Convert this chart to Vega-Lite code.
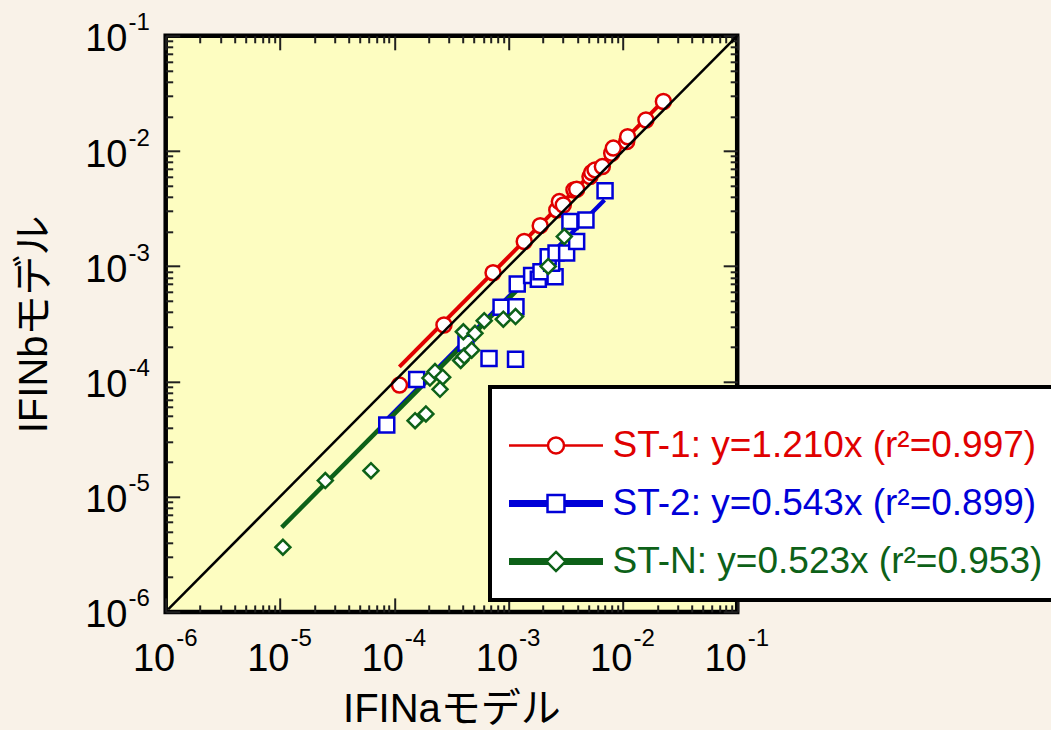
{
  "$schema": "https://vega.github.io/schema/vega-lite/v6.json",
  "width": 571.5,
  "height": 576.1,
  "autosize": {"type": "none"},
  "padding": {"left": 165.7, "top": 35.8, "right": 313.8, "bottom": 118.1},
  "background": "#f9f2e8",
  "config": {
    "view": {"fill": "#fdfdc1", "stroke": "black", "strokeWidth": 4.5},
    "font": "Liberation Sans",
    "legend": {"strokeWidth": 4}
  },
  "datasets": {
    "pts": [
      {"s": "ST-1", "x": 1.11e-4, "y": 9.3e-5},
      {"s": "ST-1", "x": 2.72e-4, "y": 3.09e-4},
      {"s": "ST-1", "x": 7.31e-4, "y": 8.79e-4},
      {"s": "ST-1", "x": 1.37e-3, "y": 1.64e-3},
      {"s": "ST-1", "x": 1.89e-3, "y": 2.25e-3},
      {"s": "ST-1", "x": 2.64e-3, "y": 3.08e-3},
      {"s": "ST-1", "x": 2.78e-3, "y": 3.64e-3},
      {"s": "ST-1", "x": 3.01e-3, "y": 3.40e-3},
      {"s": "ST-1", "x": 3.73e-3, "y": 4.59e-3},
      {"s": "ST-1", "x": 3.94e-3, "y": 4.66e-3},
      {"s": "ST-1", "x": 5.15e-3, "y": 6.00e-3},
      {"s": "ST-1", "x": 5.33e-3, "y": 6.50e-3},
      {"s": "ST-1", "x": 5.70e-3, "y": 6.86e-3},
      {"s": "ST-1", "x": 6.61e-3, "y": 7.33e-3},
      {"s": "ST-1", "x": 7.98e-3, "y": 9.57e-3},
      {"s": "ST-1", "x": 8.24e-3, "y": 1.06e-2},
      {"s": "ST-1", "x": 1.08e-2, "y": 1.21e-2},
      {"s": "ST-1", "x": 1.10e-2, "y": 1.33e-2},
      {"s": "ST-1", "x": 1.59e-2, "y": 1.86e-2},
      {"s": "ST-1", "x": 2.26e-2, "y": 2.69e-2},
      {"s": "ST-2", "x": 8.59e-5, "y": 4.19e-5},
      {"s": "ST-2", "x": 1.57e-4, "y": 1.04e-4},
      {"s": "ST-2", "x": 4.24e-4, "y": 2.15e-4},
      {"s": "ST-2", "x": 6.74e-4, "y": 1.58e-4},
      {"s": "ST-2", "x": 1.15e-3, "y": 1.56e-4},
      {"s": "ST-2", "x": 8.59e-4, "y": 4.41e-4},
      {"s": "ST-2", "x": 1.16e-3, "y": 4.45e-4},
      {"s": "ST-2", "x": 1.19e-3, "y": 7.0e-4},
      {"s": "ST-2", "x": 1.59e-3, "y": 8.3e-4},
      {"s": "ST-2", "x": 1.82e-3, "y": 7.7e-4},
      {"s": "ST-2", "x": 1.92e-3, "y": 8.97e-4},
      {"s": "ST-2", "x": 2.55e-3, "y": 8.1e-4},
      {"s": "ST-2", "x": 2.38e-3, "y": 1.06e-3},
      {"s": "ST-2", "x": 2.22e-3, "y": 1.21e-3},
      {"s": "ST-2", "x": 2.60e-3, "y": 1.30e-3},
      {"s": "ST-2", "x": 3.22e-3, "y": 1.30e-3},
      {"s": "ST-2", "x": 3.94e-3, "y": 1.64e-3},
      {"s": "ST-2", "x": 3.44e-3, "y": 2.44e-3},
      {"s": "ST-2", "x": 4.75e-3, "y": 2.52e-3},
      {"s": "ST-2", "x": 6.98e-3, "y": 4.51e-3},
      {"s": "ST-N", "x": 1.06e-5, "y": 3.64e-6},
      {"s": "ST-N", "x": 2.49e-5, "y": 1.38e-5},
      {"s": "ST-N", "x": 6.25e-5, "y": 1.68e-5},
      {"s": "ST-N", "x": 1.52e-4, "y": 4.57e-5},
      {"s": "ST-N", "x": 1.89e-4, "y": 5.22e-5},
      {"s": "ST-N", "x": 2.05e-4, "y": 1.07e-4},
      {"s": "ST-N", "x": 2.27e-4, "y": 1.22e-4},
      {"s": "ST-N", "x": 2.65e-4, "y": 1.09e-4},
      {"s": "ST-N", "x": 2.51e-4, "y": 8.55e-5},
      {"s": "ST-N", "x": 3.81e-4, "y": 1.52e-4},
      {"s": "ST-N", "x": 4.09e-4, "y": 1.66e-4},
      {"s": "ST-N", "x": 4.75e-4, "y": 1.87e-4},
      {"s": "ST-N", "x": 4.02e-4, "y": 2.70e-4},
      {"s": "ST-N", "x": 5.08e-4, "y": 2.62e-4},
      {"s": "ST-N", "x": 6.12e-4, "y": 3.37e-4},
      {"s": "ST-N", "x": 8.99e-4, "y": 3.47e-4},
      {"s": "ST-N", "x": 1.15e-3, "y": 3.66e-4},
      {"s": "ST-N", "x": 2.22e-3, "y": 9.95e-4},
      {"s": "ST-N", "x": 3.07e-3, "y": 1.81e-3}
    ],
    "fit": [
      {"series": "ST-1", "x": 1.107e-4, "y": 1.34e-4},
      {"series": "ST-1", "x": 2.35e-2, "y": 2.84e-2},
      {"series": "ST-2", "x": 8.6e-5, "y": 4.67e-5},
      {"series": "ST-2", "x": 6.9e-3, "y": 3.75e-3},
      {"series": "ST-N", "x": 1.035e-5, "y": 5.41e-6},
      {"series": "ST-N", "x": 3.1e-3, "y": 1.62e-3}
    ],
    "diag": [
      {"x": 1.05e-6, "y": 1.05e-6},
      {"x": 0.1, "y": 0.1}
    ]
  },
  "resolve": {"axis": {"x": "independent", "y": "independent"}},
  "layer": [
    {
      "data": {"name": "fit"},
      "mark": {"type": "line", "strokeCap": "butt"},
      "encoding": {
        "x": {
          "field": "x", "type": "quantitative",
          "scale": {"type": "log", "domain": [1e-6, 0.1], "nice": false},
          "axis": {
            "orient": "bottom",
            "values": [1e-6,2e-6,3e-6,4e-6,5e-6,6e-6,7e-6,8e-6,9e-6,1e-5,2e-5,3e-5,4e-5,5e-5,6e-5,7e-5,8e-5,9e-5,1e-4,2e-4,3e-4,4e-4,5e-4,6e-4,7e-4,8e-4,9e-4,0.001,0.002,0.003,0.004,0.005,0.006,0.007,0.008,0.009,0.01,0.02,0.03,0.04,0.05,0.06,0.07,0.08,0.09,0.1],
            "ticks": false, "tickSize": 0, "domain": false, "grid": false, "title": null,
            "labelExpr": "abs(log(datum.value)/LN10 - round(log(datum.value)/LN10)) < 0.001 ? '-' + (-round(log(datum.value)/LN10)) : ''",
            "labelFontSize": 24, "labelFont": "Liberation Sans", "labelColor": "black",
            "labelAlign": "left", "labelBaseline": "top", "labelOffset": 10, "labelPadding": 14.3,
            "labelFlush": false, "labelOverlap": false, "labelBound": false
          }
        },
        "y": {
          "field": "y", "type": "quantitative",
          "scale": {"type": "log", "domain": [1e-6, 0.1], "nice": false},
          "axis": {
            "orient": "left",
            "values": [1e-6,2e-6,3e-6,4e-6,5e-6,6e-6,7e-6,8e-6,9e-6,1e-5,2e-5,3e-5,4e-5,5e-5,6e-5,7e-5,8e-5,9e-5,1e-4,2e-4,3e-4,4e-4,5e-4,6e-4,7e-4,8e-4,9e-4,0.001,0.002,0.003,0.004,0.005,0.006,0.007,0.008,0.009,0.01,0.02,0.03,0.04,0.05,0.06,0.07,0.08,0.09,0.1],
            "ticks": false, "tickSize": 0, "domain": false, "grid": false, "title": null,
            "labelExpr": "abs(log(datum.value)/LN10 - round(log(datum.value)/LN10)) < 0.001 ? '-' + (-round(log(datum.value)/LN10)) : ''",
            "labelFontSize": 24, "labelFont": "Liberation Sans", "labelColor": "black",
            "labelAlign": "left", "labelBaseline": "middle", "labelOffset": -13, "labelPadding": 37.7,
            "labelFlush": false, "labelOverlap": false, "labelBound": false
          }
        },
        "color": {
          "field": "series", "type": "nominal",
          "scale": {"domain": ["ST-1", "ST-2", "ST-N"], "range": ["#e00000", "#0000d8", "#0d6118"]},
          "legend": null
        },
        "strokeWidth": {
          "field": "series", "type": "nominal",
          "scale": {"domain": ["ST-1", "ST-2", "ST-N"], "range": [4, 4.5, 6]},
          "legend": null
        }
      }
    },
    {
      "data": {"name": "pts"},
      "mark": {"type": "point", "filled": true, "fill": "white", "strokeWidth": 2.5, "opacity": 1, "size": 225},
      "encoding": {
        "x": {
          "field": "x", "type": "quantitative",
          "scale": {"type": "log", "domain": [1e-6, 0.1], "nice": false},
          "axis": {
            "orient": "top",
            "values": [1e-6,2e-6,3e-6,4e-6,5e-6,6e-6,7e-6,8e-6,9e-6,1e-5,2e-5,3e-5,4e-5,5e-5,6e-5,7e-5,8e-5,9e-5,1e-4,2e-4,3e-4,4e-4,5e-4,6e-4,7e-4,8e-4,9e-4,0.001,0.002,0.003,0.004,0.005,0.006,0.007,0.008,0.009,0.01,0.02,0.03,0.04,0.05,0.06,0.07,0.08,0.09,0.1],
            "labels": false, "domain": false, "grid": false, "title": null,
            "tickSize": {"condition": {"test": "abs(log(datum.value)/LN10 - round(log(datum.value)/LN10)) < 0.001", "value": -14}, "value": -7},
            "tickWidth": 2, "tickColor": "#202020"
          }
        },
        "y": {
          "field": "y", "type": "quantitative",
          "scale": {"type": "log", "domain": [1e-6, 0.1], "nice": false},
          "axis": {
            "orient": "right",
            "values": [1e-6,2e-6,3e-6,4e-6,5e-6,6e-6,7e-6,8e-6,9e-6,1e-5,2e-5,3e-5,4e-5,5e-5,6e-5,7e-5,8e-5,9e-5,1e-4,2e-4,3e-4,4e-4,5e-4,6e-4,7e-4,8e-4,9e-4,0.001,0.002,0.003,0.004,0.005,0.006,0.007,0.008,0.009,0.01,0.02,0.03,0.04,0.05,0.06,0.07,0.08,0.09,0.1],
            "labels": false, "domain": false, "grid": false, "title": null,
            "tickSize": {"condition": {"test": "abs(log(datum.value)/LN10 - round(log(datum.value)/LN10)) < 0.001", "value": -14}, "value": -7},
            "tickWidth": 2, "tickColor": "#202020"
          }
        },
        "shape": {
          "field": "s", "type": "nominal",
          "scale": {"domain": ["ST-1", "ST-2", "ST-N"], "range": ["circle", "square", "diamond"]},
          "legend": null
        },
        "stroke": {
          "field": "s", "type": "nominal",
          "scale": {"range": ["#e00000", "#0000d8", "#0d6118"]},
          "legend": {
            "orient": "none", "legendX": 324.3, "legendY": 351.2,
            "title": " ", "titleFontSize": 14, "titlePadding": 6,
            "padding": 20, "fillColor": "white", "strokeColor": "black",
            "symbolSize": 256, "symbolStrokeWidth": 2.5, "symbolFillColor": "white",
            "symbolType": {"expr": "datum.value === 'ST-1' ? 'M-5.875,0H-1M1,0H5.875M1,0A1,1,0,1,1,-1,0A1,1,0,1,1,1,0Z' : datum.value === 'ST-2' ? 'M-5.875,-0.28H-1.06M-5.875,0H-1.06M-5.875,0.28H-1.06M1.06,-0.28H5.875M1.06,0H5.875M1.06,0.28H5.875M-1.06,-1.06H1.06V1.06H-1.06Z' : 'M-5.875,-0.28H-0.92M-5.875,0H-1.2M-5.875,0.28H-0.92M0.92,-0.28H5.875M1.2,0H5.875M0.92,0.28H5.875M0,-1.2L1.2,0L0,1.2L-1.2,0Z'"},
            "symbolOffset": 27.5, "labelOffset": 38, "rowPadding": 20,
            "labelFontSize": 37, "labelFont": "Liberation Sans", "labelLimit": 2000,
            "labelColor": {"expr": "datum.value === 'ST-1' ? '#e00000' : datum.value === 'ST-2' ? '#0000d8' : '#0d6118'"},
            "labelExpr": "datum.value === 'ST-1' ? 'ST-1: y=1.210x (r²=0.997)' : datum.value === 'ST-2' ? 'ST-2: y=0.543x (r²=0.899)' : 'ST-N: y=0.523x (r²=0.953)'"
          }
        }
      }
    },
    {
      "data": {"name": "diag"},
      "mark": {"type": "line", "color": "black", "strokeWidth": 2.5},
      "encoding": {
        "x": {
          "field": "x", "type": "quantitative",
          "scale": {"type": "log", "domain": [1e-6, 0.1], "nice": false},
          "axis": {
            "orient": "bottom",
            "values": [1e-6,2e-6,3e-6,4e-6,5e-6,6e-6,7e-6,8e-6,9e-6,1e-5,2e-5,3e-5,4e-5,5e-5,6e-5,7e-5,8e-5,9e-5,1e-4,2e-4,3e-4,4e-4,5e-4,6e-4,7e-4,8e-4,9e-4,0.001,0.002,0.003,0.004,0.005,0.006,0.007,0.008,0.009,0.01,0.02,0.03,0.04,0.05,0.06,0.07,0.08,0.09,0.1],
            "domain": false, "grid": false,
            "tickSize": {"condition": {"test": "abs(log(datum.value)/LN10 - round(log(datum.value)/LN10)) < 0.001", "value": -14}, "value": -7},
            "tickWidth": 2, "tickColor": "#202020",
            "labelExpr": "abs(log(datum.value)/LN10 - round(log(datum.value)/LN10)) < 0.001 ? '10' : ''",
            "labelFontSize": 38, "labelFont": "Liberation Sans", "labelColor": "black",
            "labelAlign": "right", "labelBaseline": "top", "labelOffset": 9, "labelPadding": 42.3,
            "labelFlush": false, "labelOverlap": false, "labelBound": false,
            "title": "IFINaモデル", "titleFontSize": 40, "titleFont": "Liberation Sans, Noto Sans CJK JP",
            "titleFontWeight": "normal", "titleColor": "black", "titlePadding": 4
          }
        },
        "y": {
          "field": "y", "type": "quantitative",
          "scale": {"type": "log", "domain": [1e-6, 0.1], "nice": false},
          "axis": {
            "orient": "left",
            "values": [1e-6,2e-6,3e-6,4e-6,5e-6,6e-6,7e-6,8e-6,9e-6,1e-5,2e-5,3e-5,4e-5,5e-5,6e-5,7e-5,8e-5,9e-5,1e-4,2e-4,3e-4,4e-4,5e-4,6e-4,7e-4,8e-4,9e-4,0.001,0.002,0.003,0.004,0.005,0.006,0.007,0.008,0.009,0.01,0.02,0.03,0.04,0.05,0.06,0.07,0.08,0.09,0.1],
            "domain": false, "grid": false,
            "tickSize": {"condition": {"test": "abs(log(datum.value)/LN10 - round(log(datum.value)/LN10)) < 0.001", "value": -14}, "value": -7},
            "tickWidth": 2, "tickColor": "#202020",
            "labelExpr": "abs(log(datum.value)/LN10 - round(log(datum.value)/LN10)) < 0.001 ? '10' : ''",
            "labelFontSize": 38, "labelFont": "Liberation Sans", "labelColor": "black",
            "labelAlign": "right", "labelBaseline": "middle", "labelOffset": 4, "labelPadding": 52.7,
            "labelFlush": false, "labelOverlap": false, "labelBound": false,
            "title": "IFINbモデル", "titleFontSize": 40, "titleFont": "Liberation Sans, Noto Sans CJK JP",
            "titleFontWeight": "normal", "titleColor": "black", "titlePadding": 30
          }
        }
      }
    }
  ]
}
